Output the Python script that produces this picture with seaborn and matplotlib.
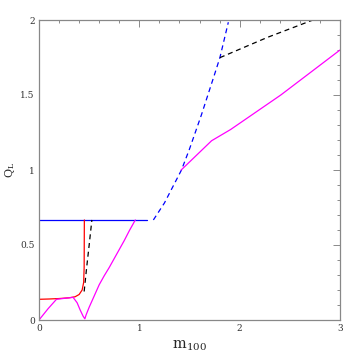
import matplotlib
matplotlib.use("Agg")
import matplotlib.pyplot as plt
import seaborn as sns
from matplotlib.ticker import MultipleLocator

# ---- data ----
blue_solid_m = [0.0, 1.077]
blue_solid_q = [0.667, 0.667]

blue_dash_m = [1.14, 1.25, 1.42, 1.50, 1.62, 1.75, 1.803, 1.887]
blue_dash_q = [0.667, 0.78, 1.00, 1.14, 1.37, 1.638, 1.749, 1.985]

black_upper_m = [1.803, 2.28, 2.75]
black_upper_q = [1.749, 1.885, 2.005]

black_lower_m = [0.45, 0.475, 0.50, 0.527]
black_lower_q = [0.19, 0.35, 0.50, 0.667]

red_m = [0.0, 0.10, 0.20, 0.30, 0.36, 0.40, 0.43, 0.445, 0.45, 0.452]
red_q = [0.138, 0.140, 0.143, 0.148, 0.155, 0.170, 0.200, 0.250, 0.350, 0.667]

mag_lower_m = [0.0, 0.09, 0.174, 0.26, 0.34, 0.38, 0.41, 0.44, 0.457,
               0.47, 0.50, 0.55, 0.60, 0.65, 0.70, 0.75, 0.80, 0.85, 0.90, 0.96]
mag_lower_q = [0.0, 0.075, 0.138, 0.145, 0.151, 0.115, 0.067, 0.025, 0.008,
               0.035, 0.085, 0.16, 0.235, 0.295, 0.35, 0.41, 0.47, 0.53, 0.595, 0.667]

mag_upper_m = [1.417, 1.72, 1.91, 2.41, 3.0]
mag_upper_q = [1.00, 1.195, 1.27, 1.50, 1.80]

x_ticks = [0, 1, 2, 3]
y_ticks = [0, 0.5, 1, 1.5, 2]
y_tick_labels = ["0", "0.5", "1", "1.5", "2"]

sns.set_style("white")
plt.rcParams["font.family"] = ["DejaVu Serif"]
plt.rcParams["mathtext.fontset"] = "dejavuserif"

fig = plt.figure(figsize=(3.59, 3.59), dpi=100)
ax = fig.add_axes([39 / 359, 39 / 359, 301 / 359, 300 / 359])

lw = 0.9
dash = (0, (4, 3))
sns.lineplot(x=blue_solid_m, y=blue_solid_q, ax=ax, color="#0000ff", lw=lw, sort=False, estimator=None)
sns.lineplot(x=blue_dash_m, y=blue_dash_q, ax=ax, color="#0000ff", lw=lw, sort=False, estimator=None,
             linestyle=dash)
sns.lineplot(x=black_upper_m, y=black_upper_q, ax=ax, color="black", lw=lw, sort=False, estimator=None,
             linestyle=dash)
sns.lineplot(x=black_lower_m, y=black_lower_q, ax=ax, color="black", lw=lw, sort=False, estimator=None,
             linestyle=dash)
sns.lineplot(x=red_m, y=red_q, ax=ax, color="#ff0000", lw=lw, sort=False, estimator=None)
sns.lineplot(x=mag_lower_m, y=mag_lower_q, ax=ax, color="#ff00ff", lw=lw, sort=False, estimator=None)
sns.lineplot(x=mag_upper_m, y=mag_upper_q, ax=ax, color="#ff00ff", lw=lw, sort=False, estimator=None)

ax.set_xlim(0, 3)
ax.set_ylim(0, 2)
ax.set_xticks(x_ticks)
ax.set_xticklabels([str(t) for t in x_ticks])
ax.set_yticks(y_ticks)
ax.set_yticklabels(y_tick_labels)
ax.xaxis.set_minor_locator(MultipleLocator(0.2))
ax.yaxis.set_minor_locator(MultipleLocator(0.1))
ax.tick_params(which="both", direction="in", top=True, right=True, colors="#777777",
               labelcolor="#333333", labelsize=6.5, width=0.6)
ax.tick_params(which="major", length=5, pad=3)
ax.tick_params(which="minor", length=2.5)
for s in ax.spines.values():
    s.set_color("#888888")
    s.set_linewidth(0.9)

ax.set_xlabel(r"m$_{100}$", fontsize=10.5, labelpad=4)
ax.set_ylabel(r"Q$_{\rm L}$", fontsize=8)
ax.yaxis.set_label_coords(-0.072, 0.5)

fig.savefig("out.png", dpi=100)
